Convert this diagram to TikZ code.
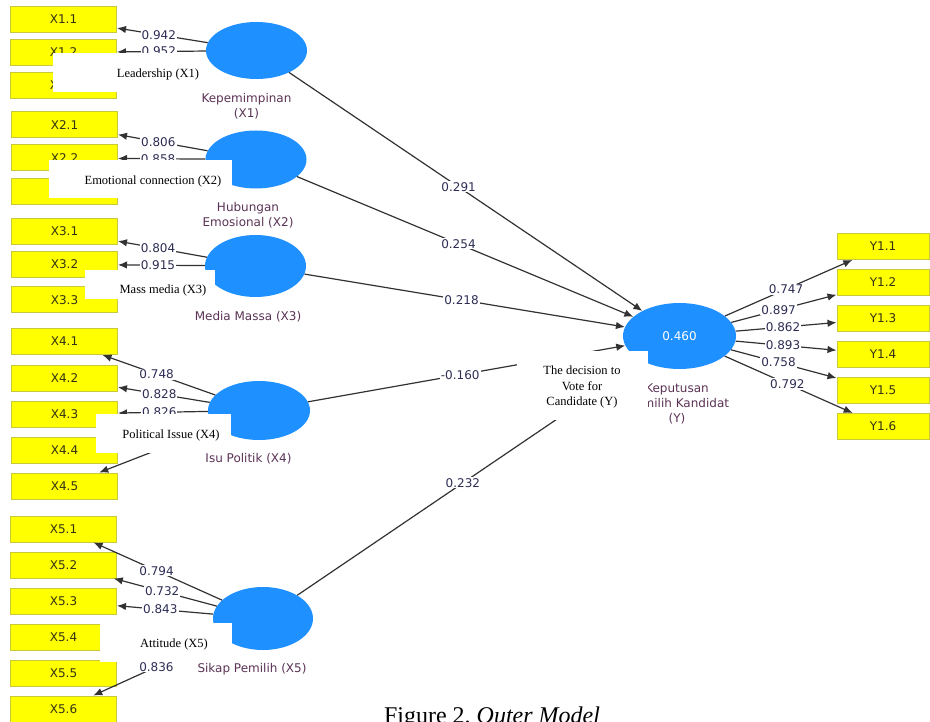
\documentclass[tikz,border=0pt]{standalone}
\usepackage{fontspec}
\setmainfont{Liberation Serif}
\newfontfamily\plsfont{DejaVu Sans}
\usetikzlibrary{arrows.meta,shapes.geometric}
\definecolor{lvblue}{RGB}{30,144,255}
\definecolor{mvyellow}{RGB}{255,255,0}
\definecolor{mvborder}{RGB}{200,200,60}
\definecolor{mvtext}{RGB}{50,50,20}
\definecolor{numcol}{RGB}{45,45,85}
\definecolor{namecol}{RGB}{90,50,85}
\definecolor{linecol}{RGB}{50,50,50}
\newcommand{\plsnum}{\plsfont\fontsize{12}{13.5}\selectfont}
\newcommand{\plsname}{\plsfont\fontsize{12}{15}\selectfont}
\tikzset{
  lv/.style={ellipse, fill=lvblue, draw=none, inner sep=0pt, minimum width=101pt, minimum height=58pt},
  mv/.style={rectangle, fill=mvyellow, draw=mvborder, line width=1pt, minimum width=106pt, minimum height=26pt, inner sep=0pt, font=\plsnum, text=mvtext},
  mvy/.style={mv, minimum width=92pt},
  ld/.style={draw=linecol, line width=1.2pt, -{Latex[length=9pt,width=7.5pt]}},
  lbl/.style={fill=white, inner sep=1pt, font=\plsnum, text=numcol},
  lvname/.style={align=center, font=\plsname, text=namecol, inner sep=0pt},
  covtxt/.style={align=center, font=\fontsize{12.5}{15.5}\selectfont, text=black, inner sep=0pt}
}
\begin{document}
\begin{tikzpicture}[x=1pt,y=-1pt]
\useasboundingbox (0,0) rectangle (930,722);
% latent variables
\node[lv, minimum height=57pt] (x1) at (256.5,50.5) {};
\node[lv] (x2) at (256,159.5) {};
\node[lv, minimum height=62pt] (x3) at (255.5,266) {};
\node[lv, minimum width=102pt, minimum height=59pt] (x4) at (259,410.5) {};
\node[lv, minimum width=100pt, minimum height=63pt] (x5) at (263,618.5) {};
\node[lv, minimum width=113pt, minimum height=66pt, text=white, font=\plsnum] (y) at (679.5,336) {0.460};
% indicators
\node[mv] (x11) at (63.5,19.5) {X1.1};
\node[mv] (x12) at (63.5,52.5) {X1.2};
\node[mv] (x13) at (63.5,85.5) {X1.3};
\node[mv] (x21) at (64.5,125) {X2.1};
\node[mv] (x22) at (64.5,158) {X2.2};
\node[mv] (x23) at (64.5,192) {X2.3};
\node[mv] (x31) at (64.5,231.5) {X3.1};
\node[mv] (x32) at (64.5,264.5) {X3.2};
\node[mv] (x33) at (64.5,300) {X3.3};
\node[mv] (x41) at (64.5,341.5) {X4.1};
\node[mv] (x42) at (64.5,378.5) {X4.2};
\node[mv] (x43) at (64.5,414) {X4.3};
\node[mv] (x44) at (64.5,450) {X4.4};
\node[mv] (x45) at (64.5,486) {X4.5};
\node[mv] (x51) at (63.5,529) {X5.1};
\node[mv] (x52) at (63.5,565) {X5.2};
\node[mv] (x53) at (63.5,601) {X5.3};
\node[mv] (x54) at (63.5,637) {X5.4};
\node[mv] (x55) at (63.5,673.5) {X5.5};
\node[mv] (x56) at (63.5,709) {X5.6};
\node[mvy] (y11) at (883,246.5) {Y1.1};
\node[mvy] (y12) at (883,282.5) {Y1.2};
\node[mvy] (y13) at (883,318.5) {Y1.3};
\node[mvy] (y14) at (883,354.5) {Y1.4};
\node[mvy] (y15) at (883,390.5) {Y1.5};
\node[mvy] (y16) at (883,426.5) {Y1.6};
% outer loadings
\draw[ld] (x1) -- node[lbl,pos=0.54]{0.942} (x11);
\draw[ld] (x1) -- node[lbl,pos=0.53]{0.952} (x12);
\draw[ld] (x2) -- node[lbl,pos=0.55]{0.806} (x21);
\draw[ld] (x2) -- node[lbl,pos=0.54]{0.858} (x22);
\draw[ld] (x3) -- node[lbl,pos=0.55]{0.804} (x31);
\draw[ld] (x3) -- node[lbl,pos=0.54]{0.915} (x32);
\draw[ld] (x4) -- node[lbl,pos=0.52]{0.748} (x41);
\draw[ld] (x4) -- node[lbl,pos=0.55]{0.828} (x42);
\draw[ld] (x4) -- node[lbl,pos=0.54]{0.826} (x43);
\draw[ld] (x4) -- (x45);
\draw[ld] (x5) -- node[lbl,pos=0.51]{0.794} (x51);
\draw[ld] (x5) -- node[lbl,pos=0.53]{0.732} (x52);
\draw[ld] (x5) -- node[lbl,pos=0.55]{0.843} (x53);
\draw[ld] (x5) -- node[lbl,pos=0.51]{0.836} (x56);
\draw[ld] (y) -- node[lbl,pos=0.48]{0.747} (y11);
\draw[ld] (y) -- node[lbl,pos=0.45]{0.897} (y12);
\draw[ld] (y) -- node[lbl,pos=0.47]{0.862} (y13);
\draw[ld] (y) -- node[lbl,pos=0.47]{0.893} (y14);
\draw[ld] (y) -- node[lbl,pos=0.45]{0.758} (y15);
\draw[ld] (y) -- node[lbl,pos=0.49]{0.792} (y16);
% inner model
\draw[ld] (x1) -- node[lbl,pos=0.48]{0.291} (y);
\draw[ld] (x2) -- node[lbl,pos=0.48]{0.254} (y);
\draw[ld] (x3) -- node[lbl,pos=0.49]{0.218} (y);
\draw[ld] (x4) -- node[lbl,pos=0.48]{-0.160} (y);
\draw[ld] (x5) -- node[lbl,pos=0.48]{0.232} (y);
% latent names
\node[lvname] (n1) at (246.5,106) {Kepemimpinan\\(X1)};
\node[lvname] (n2) at (248,215.5) {Hubungan\\Emosional (X2)};
\node[lvname] (n3) at (248,317) {Media Massa (X3)};
\node[lvname] (n4) at (248.5,459) {Isu Politik (X4)};
\node[lvname] (n5) at (252,669) {Sikap Pemilih (X5)};
\node[lvname] (ny) at (677,404) {Keputusan\\Memilih Kandidat\\(Y)};
% white overlays with English names
\fill[white] (53,53) rectangle (203,92);
\node[covtxt] (c1) at (158,74) {Leadership (X1)};
\fill[white] (49,160) rectangle (232,198);
\node[covtxt] (c2) at (153,181) {Emotional connection (X2)};
\fill[white] (85,270) rectangle (215,299);
\node[covtxt] (c3) at (163,290) {Mass media (X3)};
\fill[white] (96,414) rectangle (231,453);
\node[covtxt] (c4) at (171,435) {Political Issue (X4)};
\fill[white] (100,623) rectangle (232,662);
\node[covtxt] (c5) at (174,644) {Attitude (X5)};
\fill[white] (517,351) rectangle (648,420);
\node[covtxt] (c6) at (582,387) {The decision to\\Vote for\\Candidate (Y)};
% caption
\node[anchor=base, font=\fontsize{24}{28}\selectfont, inner sep=0pt] (cap) at (492,723) {Figure 2.~\textit{Outer Model}};
\end{tikzpicture}
\end{document}
